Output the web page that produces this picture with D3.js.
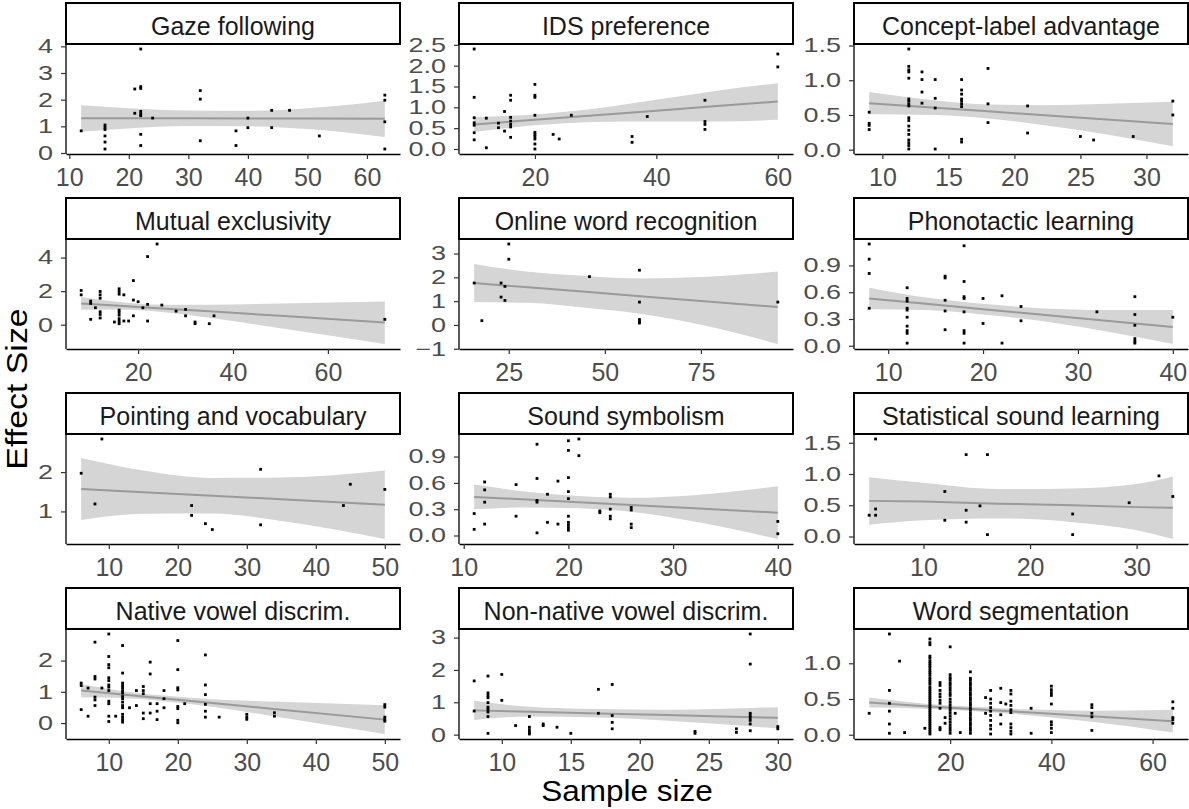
<!DOCTYPE html>
<html>
<head>
<meta charset="utf-8">
<script src="https://cdn.jsdelivr.net/npm/d3@7/dist/d3.min.js"></script>
<style>
  body { margin: 0; background: #fff; }
  svg { font-family: "Liberation Sans", Arial, sans-serif; }
</style>
</head>
<body>
<div id="chart"></div>
<script>
// facet titles, in reading order (3 columns x 4 rows)
const facetTitles = [
  "Gaze following", "IDS preference", "Concept-label advantage",
  "Mutual exclusivity", "Online word recognition", "Phonotactic learning",
  "Pointing and vocabulary", "Sound symbolism", "Statistical sound learning",
  "Native vowel discrim.", "Non-native vowel discrim.", "Word segmentation"
];

// points: [sample size, [effect sizes at that sample size]]
const gazePoints = [
  [12, [0.83]], [16, [1.05, 0.96, 0.88, 0.64, 0.41, 0.15]], [21, [2.40, 1.49]],
  [22, [3.90, 2.49, 2.42, 1.56, 1.47, 1.40, 0.70, 0.28]], [24, [1.31]],
  [32, [2.34, 2.02, 0.46]], [38, [0.83, 0.28]], [40, [1.31, 0.95]], [44, [1.60, 0.95]],
  [47, [1.60]], [52, [0.64]], [63, [2.17, 1.98, 1.17, 0.15]]
];
const idsPoints = [
  [10, [2.40, 1.24, 0.75, 0.63, 0.57, 0.39, 0.22]], [12, [0.74, 0.03]], [14, [0.62, 0.51]],
  [15, [0.90, 0.43]], [16, [1.29, 1.17, 0.76, 0.67, 0.59, 0.53, 0.28]],
  [20, [1.55, 1.29, 1.24, 0.81, 0.40, 0.35, 0.30, 0.24, 0.12, 0.00]],
  [23, [0.35]], [24, [0.24]], [26, [0.81]], [36, [0.30, 0.16]], [38.5, [0.78]],
  [48, [1.17, 0.66, 0.59, 0.47]], [60, [2.28, 1.97]]
];
const conceptPoints = [
  [9, [0.54, 0.38, 0.35, 0.29]],
  [12, [1.45, 1.20, 1.15, 1.12, 1.03, 0.73, 0.70, 0.66, 0.63, 0.46, 0.42, 0.34, 0.28, 0.22, 0.14, 0.10, 0.06, 0.01]],
  [13, [1.12, 1.01, 0.83, 0.67]], [14, [1.01, 0.74, 0.60, 0.01]],
  [16, [1.01, 0.86, 0.80, 0.73, 0.70, 0.66, 0.62, 0.15, 0.11]],
  [18, [1.17, 0.66, 0.39]], [21, [0.63, 0.24]], [25, [0.19]], [26, [0.14]], [29, [0.19]],
  [32, [0.70, 0.50]]
];
const mutualPoints = [
  [8, [2.04, 1.78]], [10, [1.41, 1.27, 0.32]], [11, [1.01]], [12, [1.98, 1.78, 1.58, 0.77, 0.61, 0.40]],
  [15, [0.16]], [16, [2.14, 1.98, 1.82, 0.87, 0.73, 0.57, 0.36, 0.20, 0.06]], [17, [1.78, 0.22]],
  [18, [0.22]], [19, [2.63, 1.47, 0.53]], [20, [1.37]], [21, [1.01]], [22, [4.06, 1.21, 0.22]],
  [24, [4.81]], [25, [1.17]], [28, [0.81]], [30, [0.91, 0.53]], [32, [0.16, 0.06]], [35, [0.06]],
  [36, [0.53]], [72, [0.32]]
];
const onlinePoints = [
  [16, [1.76]], [18, [0.18]], [23, [1.76, 1.17]], [24, [1.62, 1.03]], [25, [3.40, 2.76]],
  [46, [2.03]], [59, [2.30, 0.96, 0.23, 0.14, 0.08]], [95, [0.96]]
];
const phonoPoints = [
  [8, [1.14, 0.97, 0.81, 0.42]], [12, [0.65, 0.53, 0.50, 0.42, 0.40, 0.32, 0.22, 0.17, 0.14, 0.03]],
  [16, [0.78, 0.76, 0.51, 0.39, 0.18]], [18, [1.12, 0.72, 0.55, 0.53, 0.38, 0.17, 0.14, 0.03]],
  [20, [0.53, 0.25]], [22, [0.56, 0.03]], [24, [0.44, 0.28]], [32, [0.38]],
  [36, [0.55, 0.35, 0.23, 0.08, 0.05, 0.03]], [40, [0.32]]
];
const pointingPoints = [
  [6, [1.97]], [8, [1.19]], [9, [2.84]], [22, [1.15, 0.90]], [24, [0.69]], [25, [0.54]],
  [32, [2.07, 0.66]], [44, [1.15]], [45, [1.69]], [50, [1.56]]
];
const soundPoints = [
  [11, [0.25, 0.07]], [12, [0.61, 0.52, 0.38, 0.13]], [15, [0.58, 0.22]],
  [17, [1.04, 0.65, 0.40, 0.38, 0.03]], [18, [0.47, 0.15]], [19, [0.62, 0.13]],
  [20, [1.08, 0.97, 0.66, 0.50, 0.42, 0.22, 0.15, 0.12, 0.09, 0.06]], [21, [1.10, 0.91]],
  [23, [0.28, 0.26]], [24, [0.47, 0.44, 0.30, 0.22, 0.19]], [26, [0.32, 0.29, 0.13, 0.09]],
  [40, [0.16, 0.02]]
];
const statPoints = [
  [4.9, [0.34]], [5.5, [1.56, 0.44, 0.34]], [12, [0.72, 0.26]], [14, [1.31, 0.42, 0.23]],
  [15.3, [0.49]], [16, [1.31, 0.03]], [24, [0.36, 0.03]], [29.3, [0.54]], [32.1, [0.97]], [33.4, [0.64]]
];
const nativePoints = [
  [6, [1.28, 1.20, 0.43]], [7, [1.12, 0.22]], [8, [2.59, 1.49, 1.41, 0.83, 0.74, 0.56]], [9, [1.12]],
  [10, [2.85, 2.13, 1.87, 1.77, 1.45, 1.36, 1.22, 1.15, 1.04, 0.70, 0.62, 0.22, 0.05]], [11, [0.22]],
  [12, [2.48, 1.60, 1.28, 1.20, 1.13, 1.04, 0.96, 0.85, 0.78, 0.67, 0.56, 0.49, 0.28, 0.19, 0.11, 0.03]],
  [13, [0.49]], [14, [1.04, 0.56]], [15, [1.17, 1.04, 0.94, 0.32, 0.14]], [16, [1.95, 1.57, 0.62, 0.32]],
  [17, [0.62, 0.38, 0.11]], [18, [1.04, 0.78, 0.49]], [20, [2.64, 1.71, 1.13, 1.06, 0.53, 0.46, 0.09, 0.01]],
  [21, [0.62]], [24, [2.18, 1.22, 0.91, 0.60, 0.38, 0.19]], [26, [0.19]], [30, [0.28, 0.19, 0.12]],
  [34, [0.33, 0.22]], [50, [0.59, 0.51, 0.19, 0.12, 0.06]]
];
const nonNativePoints = [
  [8, [1.66, 0.73]], [9, [1.81, 1.29, 1.21, 1.14, 0.99, 0.85, 0.78, 0.70, 0.56, 0.04]], [10, [1.86, 1.06]],
  [11, [0.28]], [12, [0.56, 0.23, 0.15, 0.07, 0.02]], [13, [0.33, 0.28]], [14, [0.23]], [15, [0.04]],
  [17, [1.40, 0.66]], [18, [1.55, 0.59, 0.38, 0.18]], [24, [0.10, 0.04]], [27, [0.18, 0.07]],
  [28, [3.11, 2.18, 0.66, 0.59, 0.52, 0.44, 0.33, 0.12]], [30, [0.25, 0.18]]
];
const segmentPoints = [
  [4, [0.30]], [8, [1.41, 0.62, 0.44, 0.33, 0.15, 0.02]], [10, [1.03]], [11, [0.03]], [15, [0.09]],
  [16, [1.34, 1.29, 1.26, 1.10, 1.07, 1.03, 1.00, 0.97, 0.94, 0.90, 0.87, 0.84, 0.80, 0.77, 0.74, 0.71,
        0.67, 0.64, 0.61, 0.58, 0.55, 0.52, 0.49, 0.46, 0.43, 0.40, 0.37, 0.34, 0.31, 0.28, 0.25, 0.22,
        0.19, 0.16, 0.13, 0.10, 0.07, 0.04, 0.01]],
  [18, [0.73, 0.69, 0.62, 0.57, 0.53, 0.48, 0.44, 0.37, 0.10, 0.07]], [19, [0.24, 0.16]],
  [20, [1.23, 0.84, 0.80, 0.77, 0.73, 0.70, 0.66, 0.62, 0.58, 0.55, 0.50, 0.46, 0.42, 0.38, 0.34, 0.30,
        0.26, 0.22, 0.18, 0.14, 0.10, 0.06, 0.02]],
  [21, [0.30]], [22, [0.03]],
  [24, [0.88, 0.79, 0.76, 0.72, 0.69, 0.65, 0.62, 0.58, 0.55, 0.51, 0.48, 0.44, 0.41, 0.37, 0.34, 0.30,
        0.27, 0.23, 0.20, 0.16, 0.13, 0.09, 0.06, 0.02]],
  [27, [0.52, 0.30]], [28, [0.62, 0.50, 0.44, 0.38, 0.33, 0.27, 0.20, 0.13, 0.08, 0.01]],
  [30, [0.65, 0.45, 0.28, 0.15]], [31, [0.43]],
  [32, [0.62, 0.57, 0.47, 0.41, 0.35, 0.31, 0.15, 0.10, 0.05, 0.01]], [36, [0.37, 0.02]],
  [40, [0.68, 0.63, 0.59, 0.55, 0.43, 0.18, 0.14, 0.09, 0.03]], [48, [0.42, 0.38, 0.30, 0.25, 0.06]],
  [64, [0.46, 0.37, 0.24, 0.21, 0.16]]
];

// linear fit with 95% band: [sample size, lower, fit, upper]
const gazeFit = [[12, 0.80, 1.30, 1.79], [20, 0.92, 1.30, 1.68], [30, 1.01, 1.30, 1.59], [40, 1.00, 1.29, 1.58], [50, 0.90, 1.29, 1.68], [63, 0.60, 1.28, 1.96]];
const idsFit = [[10, 0.41, 0.59, 0.77], [20, 0.57, 0.70, 0.83], [30, 0.65, 0.81, 0.97], [40, 0.66, 0.92, 1.18], [50, 0.66, 1.03, 1.40], [60, 0.70, 1.14, 1.58]];
const conceptFit = [[9, 0.51, 0.67, 0.83], [14, 0.50, 0.605, 0.71], [18, 0.45, 0.553, 0.65], [22, 0.36, 0.50, 0.64], [27, 0.22, 0.436, 0.66], [32, 0.05, 0.37, 0.69]];
const mutualFit = [[8, 0.89, 1.27, 1.65], [16, 0.90, 1.13, 1.36], [25, 0.75, 0.97, 1.19], [35, 0.41, 0.80, 1.19], [50, -0.21, 0.53, 1.27], [72, -1.15, 0.13, 1.38]];
const onlineFit = [[16, 0.96, 1.76, 2.56], [30, 0.93, 1.58, 2.23], [45, 0.72, 1.39, 2.06], [60, 0.45, 1.20, 1.95], [75, 0.01, 1.01, 2.01], [95, -0.80, 0.75, 2.24]];
const phonoFit = [[8, 0.41, 0.53, 0.65], [14, 0.40, 0.47, 0.54], [20, 0.35, 0.41, 0.47], [26, 0.28, 0.35, 0.42], [33, 0.16, 0.28, 0.40], [40, 0.02, 0.21, 0.40]];
const pointingFit = [[6, 0.78, 1.57, 2.36], [15, 0.94, 1.49, 2.04], [25, 0.95, 1.40, 1.85], [35, 0.76, 1.31, 1.86], [50, 0.30, 1.17, 2.04]];
const soundFit = [[11, 0.30, 0.44, 0.58], [16, 0.32, 0.41, 0.50], [21, 0.31, 0.378, 0.45], [26, 0.27, 0.347, 0.43], [32, 0.16, 0.31, 0.46], [40, -0.04, 0.26, 0.56]];
const statFit = [[4.9, 0.19, 0.57, 0.95], [10, 0.26, 0.56, 0.86], [17, 0.29, 0.525, 0.76], [24, 0.23, 0.50, 0.77], [30, 0.10, 0.47, 0.84], [33.4, -0.04, 0.46, 0.96]];
const nativeFit = [[6, 0.83, 1.04, 1.25], [12, 0.80, 0.913, 1.02], [18, 0.70, 0.786, 0.88], [25, 0.52, 0.64, 0.76], [35, 0.18, 0.427, 0.68], [50, -0.35, 0.11, 0.57]];
const nonNativeFit = [[8, 0.45, 0.75, 1.05], [12, 0.56, 0.708, 0.86], [17, 0.53, 0.656, 0.79], [22, 0.43, 0.604, 0.77], [26, 0.32, 0.56, 0.80], [30, 0.19, 0.52, 0.85]];
const segmentFit = [[4, 0.38, 0.45, 0.52], [15, 0.365, 0.40, 0.435], [25, 0.33, 0.358, 0.39], [35, 0.275, 0.314, 0.355], [48, 0.18, 0.257, 0.335], [64, 0.03, 0.19, 0.35]];

// tick values per facet
const xTickSets = [
  [10, 20, 30, 40, 50, 60], [20, 40, 60], [10, 15, 20, 25, 30],
  [20, 40, 60], [25, 50, 75], [10, 20, 30, 40],
  [10, 20, 30, 40, 50], [10, 20, 30, 40], [10, 20, 30],
  [10, 20, 30, 40, 50], [10, 15, 20, 25, 30], [20, 40, 60]
];
const yTickSets = [
  [0, 1, 2, 3, 4], [0, 0.5, 1, 1.5, 2, 2.5], [0, 0.5, 1, 1.5],
  [0, 2, 4], [-1, 0, 1, 2, 3], [0, 0.3, 0.6, 0.9],
  [1, 2], [0, 0.3, 0.6, 0.9], [0, 0.5, 1, 1.5],
  [0, 1, 2], [0, 1, 2, 3], [0, 0.5, 1]
];

const pointSets = [gazePoints, idsPoints, conceptPoints, mutualPoints, onlinePoints, phonoPoints,
  pointingPoints, soundPoints, statPoints, nativePoints, nonNativePoints, segmentPoints];
const fitSets = [gazeFit, idsFit, conceptFit, mutualFit, onlineFit, phonoFit,
  pointingFit, soundFit, statFit, nativeFit, nonNativeFit, segmentFit];

// layout
var colLeft = [66, 459, 854],
    rowTop = [3, 198, 393, 588],
    panelW = 334,
    stripH = 41,
    panelH = 110;

var svg = d3.select("#chart").append("svg")
  .attr("width", 1189)
  .attr("height", 809);

function expand(ext, m) {
  var d = ext[1] - ext[0];
  return [ext[0] - d * m, ext[1] + d * m];
}

facetTitles.forEach((title, i) => {
  var col = i % 3, row = Math.floor(i / 3);
  var left = colLeft[col],
      stripTop = rowTop[row],
      top = stripTop + stripH,
      bottom = top + panelH;

  var pts = pointSets[i].flatMap(([n, es]) => es.map(e => ({x: n, y: e})));
  var band = fitSets[i].map(([n, lo, fit, hi]) => ({x: n, lo: lo, fit: fit, hi: hi}));

  var x = d3.scaleLinear()
    .domain(expand(d3.extent(pts, d => d.x), 0.05))
    .range([left, left + panelW]);

  var yExt = d3.extent(pts.map(d => d.y).concat(band.map(d => d.lo), band.map(d => d.hi)));
  var y = d3.scaleLinear()
    .domain(expand(yExt, 0.05))
    .range([bottom, top]);

  var g = svg.append("g").attr("class", "facet");

  // confidence band + fit line
  g.append("path")
    .datum(band)
    .attr("d", d3.area()
      .x(d => x(d.x))
      .y0(d => y(d.lo))
      .y1(d => y(d.hi))
      .curve(d3.curveMonotoneX))
    .style("fill", "#d5d5d5");

  g.append("path")
    .datum(band)
    .attr("d", d3.line().x(d => x(d.x)).y(d => y(d.fit)))
    .style("fill", "none")
    .style("stroke", "#9a9a9a")
    .style("stroke-width", 2);

  // points
  g.selectAll("rect.pt")
    .data(pts)
    .enter().append("rect")
      .attr("class", "pt")
      .attr("x", d => x(d.x) - 1.4)
      .attr("y", d => y(d.y) - 1.4)
      .attr("width", 2.8)
      .attr("height", 2.8)
      .style("fill", "#000");

  // axes
  var xAxis = g.append("g")
    .attr("transform", `translate(0,${bottom})`)
    .call(d3.axisBottom(x).tickValues(xTickSets[i]).tickSize(5).tickSizeOuter(0).tickPadding(9));
  xAxis.select(".domain").style("stroke", "#000").style("stroke-width", 1.3);
  xAxis.selectAll(".tick line").style("stroke", "#333").style("stroke-width", 1.2);
  xAxis.selectAll(".tick text")
    .style("font-size", "25px")
    .style("fill", "#4d4d4d")
    .style("font-family", "'Liberation Sans', Arial, sans-serif");

  var decimals = yTickSets[i].some(v => v % 1 !== 0);
  var yTicks = yTickSets[i].filter(v => v >= y.domain()[0] && v <= y.domain()[1]);
  var yAxis = g.append("g")
    .attr("transform", `translate(${left},0)`)
    .call(d3.axisLeft(y).tickValues(yTicks).tickSize(5).tickSizeOuter(0)
      .tickFormat(decimals ? d3.format(".1f") : d3.format("d")));
  yAxis.select(".domain").attr("d", `M0,${top}V${bottom}`).style("stroke", "#000").style("stroke-width", 1.3);
  yAxis.selectAll(".tick line").style("stroke", "#333").style("stroke-width", 1.2);
  yAxis.selectAll(".tick text")
    .attr("x", -13 / 1.35)
    .attr("transform", "scale(1.35,1)")
    .style("font-size", "20px")
    .style("fill", "#4d4d4d")
    .style("font-family", "'Liberation Sans', Arial, sans-serif");

  // strip
  g.append("rect")
    .attr("x", left)
    .attr("y", stripTop)
    .attr("width", panelW)
    .attr("height", stripH)
    .style("fill", "#fff")
    .style("stroke", "#000")
    .style("stroke-width", 2);

  g.append("text")
    .attr("x", left + panelW / 2)
    .attr("y", stripTop + stripH / 2)
    .attr("dy", "0.44em")
    .style("text-anchor", "middle")
    .style("font-size", "25px")
    .style("fill", "#1a1a1a")
    .text(title);
});

// axis titles
svg.append("text")
  .attr("transform", "translate(627,801) scale(1.05,1)")
  .style("text-anchor", "middle")
  .style("font-size", "30px")
  .style("fill", "#000")
  .text("Sample size");

svg.append("text")
  .attr("transform", "translate(27,389) rotate(-90) scale(1.13,1)")
  .style("text-anchor", "middle")
  .style("font-size", "30px")
  .style("fill", "#000")
  .text("Effect Size");
</script>
</body>
</html>
